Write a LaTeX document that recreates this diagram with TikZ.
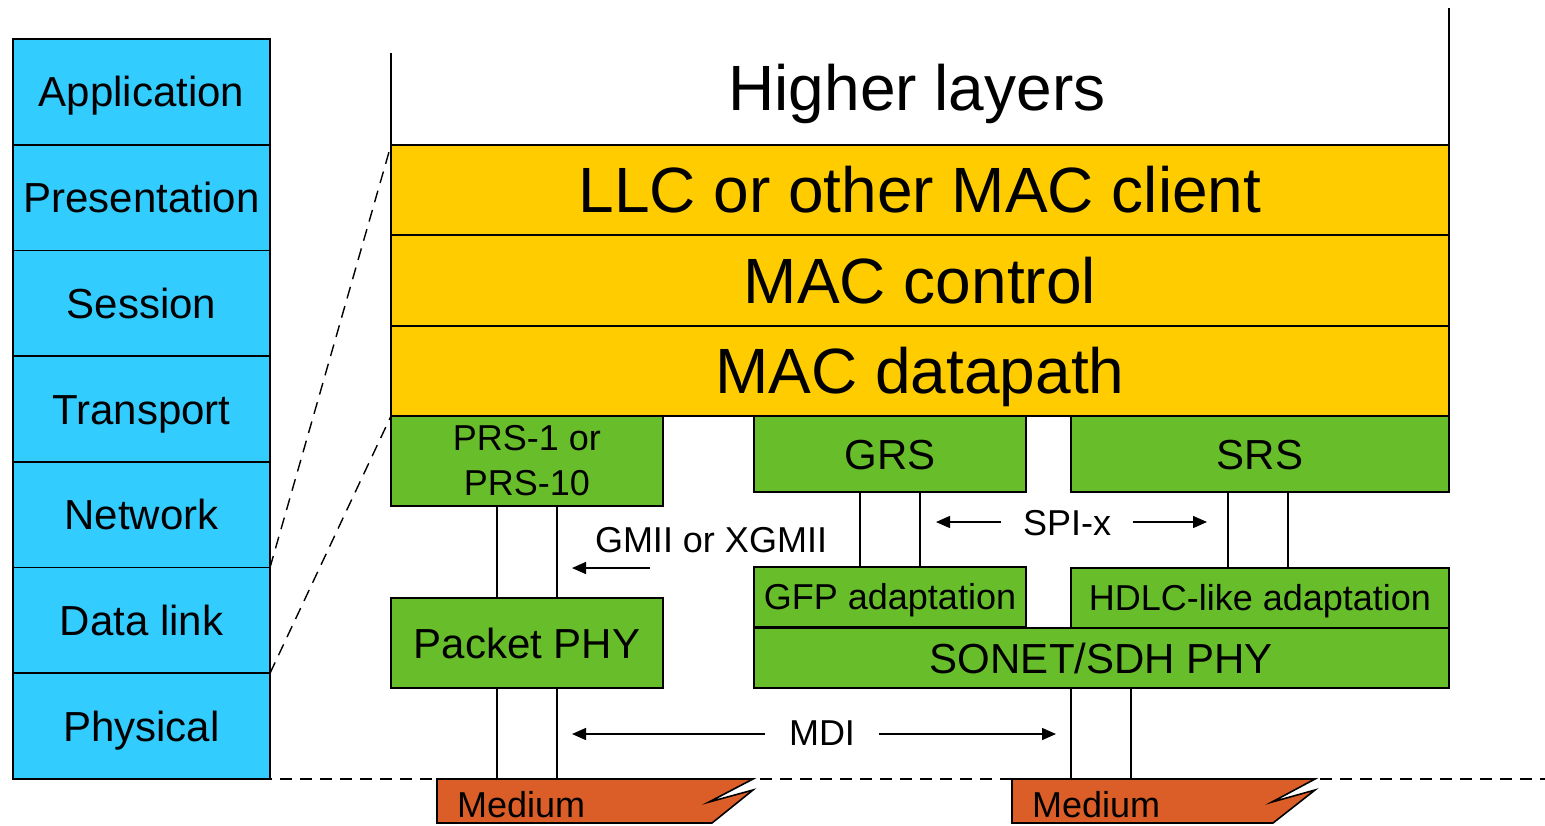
\documentclass[tikz,border=0pt]{standalone}
\usepackage{fontspec}
\setmainfont{Liberation Sans}
\usetikzlibrary{arrows.meta}
\definecolor{osiblue}{RGB}{51,204,255}
\definecolor{macorange}{RGB}{255,204,0}
\definecolor{phygreen}{RGB}{104,189,42}
\definecolor{medorange}{RGB}{219,94,40}
\begin{document}
\begin{tikzpicture}[x=1pt,y=-1pt,
 box/.style={draw=black, line width=1.6pt, inner sep=0pt, outer sep=0pt},
 f64/.style={font=\fontsize{64}{76}\selectfont},
 f42/.style={font=\fontsize{42}{50}\selectfont},
 f36/.style={font=\fontsize{36}{45}\selectfont},
 l64/.style={f64, text height=45.8pt, text depth=0pt},
 l42/.style={f42, text height=30.1pt, text depth=0pt},
 l36/.style={f36, text height=25.8pt, text depth=0pt},
 osibox/.style={box, l42, fill=osiblue, minimum width=257pt, minimum height=105.7pt},
 macbox/.style={box, l64, fill=macorange, minimum width=1058pt},
 grnbox/.style={box, fill=phygreen},
 wire/.style={line width=1.4pt},
 arr/.style={wire, -{Triangle[length=14pt,width=12pt]}},
 dashl/.style={line width=1.4pt, dash pattern=on 12pt off 8pt},
 medshape/.style={draw=black, line width=1.6pt, fill=medorange, line join=miter},
]
\useasboundingbox (0,0) rectangle (1545,825);

% OSI column
\node[osibox] (app) at (141.5,91.86) {Application};
\node[osibox] (pres) at (141.5,197.57) {Presentation};
\node[osibox] (sess) at (141.5,303.29) {Session};
\node[osibox] (trans) at (141.5,409) {Transport};
\node[osibox] (net) at (141.5,514.71) {Network};
\node[osibox] (dl) at (141.5,620.43) {Data link};
\node[osibox] (phys) at (141.5,726.14) {Physical};

% MAC layers
\node[macbox, minimum height=90pt] (llc) at (920,190) {LLC or other MAC client};
\node[macbox, minimum height=91pt] (macc) at (920,280.5) {MAC control};
\node[macbox, minimum height=90pt] (macd) at (920,371) {MAC datapath};
\node[l64] (hl) at (917,88) {Higher layers};
\draw[wire] (llc.north west) -- ++(0,-92);
\draw[wire] (llc.north east) -- ++(0,-137);

% green blocks
\node[grnbox, f36, align=center, minimum width=272pt, minimum height=90pt] (prs) at (527,461) {PRS-1 or\\PRS-10};
\node[grnbox, l42, minimum width=272pt, minimum height=76pt] (grs) at (890,454) {GRS};
\node[grnbox, l42, minimum width=378pt, minimum height=76pt] (srs) at (1260,454) {SRS};
\node[grnbox, l36, minimum width=272pt, minimum height=60pt] (gfp) at (890,597) {GFP adaptation};
\node[grnbox, l36, minimum width=378pt, minimum height=60pt] (hdlc) at (1260,598) {HDLC-like adaptation};
\node[grnbox, l42, minimum width=695pt, minimum height=60pt] (sonet) at (1101.5,658) {SONET/SDH PHY};
\node[grnbox, l42, minimum width=272pt, minimum height=90pt] (pphy) at (527,643) {Packet PHY};

% dashed lines to OSI
\draw[dashl] (dl.north east) -- (llc.north west);
\draw[dashl] (dl.south east) -- (prs.north west);
\draw[dashl] (100,779) -- (1545,779);

% medium shapes
\draw[medshape] (437,779) -- (753,779) -- (709,802) -- (753,790) -- (712,823) -- (437,823) -- cycle;
\draw[medshape] (1012,779) -- (1315,779) -- (1272,802) -- (1315,790) -- (1273,823) -- (1012,823) -- cycle;
\node[f36, anchor=base west, inner sep=0pt] (med1) at (457,817) {Medium};
\node[f36, anchor=base west, inner sep=0pt] (med2) at (1032,817) {Medium};

% wires
\draw[wire] (prs.south -| 497,0) -- (pphy.north -| 497,0);
\draw[wire] (prs.south -| 557,0) -- (pphy.north -| 557,0);
\draw[wire] (pphy.south -| 497,0) -- (497,779);
\draw[wire] (pphy.south -| 557,0) -- (557,779);
\draw[wire] (grs.south -| 860,0) -- (gfp.north -| 860,0);
\draw[wire] (grs.south -| 920,0) -- (gfp.north -| 920,0);
\draw[wire] (srs.south -| 1228,0) -- (hdlc.north -| 1228,0);
\draw[wire] (srs.south -| 1288,0) -- (hdlc.north -| 1288,0);
\draw[wire] (sonet.south -| 1071,0) -- (1071,779);
\draw[wire] (sonet.south -| 1131,0) -- (1131,779);

% interface labels and arrows
\node[l36] (gmii) at (711,540) {GMII or XGMII};
\node[l36] (spix) at (1067,523) {SPI-x};
\node[l36] (mdi) at (822,733) {MDI};
\coordinate (gmiiS) at (650,568);
\coordinate (gmiiE) at (572,568);
\coordinate (spiL) at (936,522);
\coordinate (spiR) at (1207,522);
\coordinate (mdiL) at (572,734);
\coordinate (mdiR) at (1056,734);
\draw[arr] (gmiiS) -- (gmiiE);
\draw[arr] ([xshift=-18pt]spix.west |- spiL) -- (spiL);
\draw[arr] ([xshift=18pt]spix.east |- spiR) -- (spiR);
\draw[arr] ([xshift=-20pt]mdi.west |- mdiL) -- (mdiL);
\draw[arr] ([xshift=20pt]mdi.east |- mdiR) -- (mdiR);
\end{tikzpicture}
\end{document}
